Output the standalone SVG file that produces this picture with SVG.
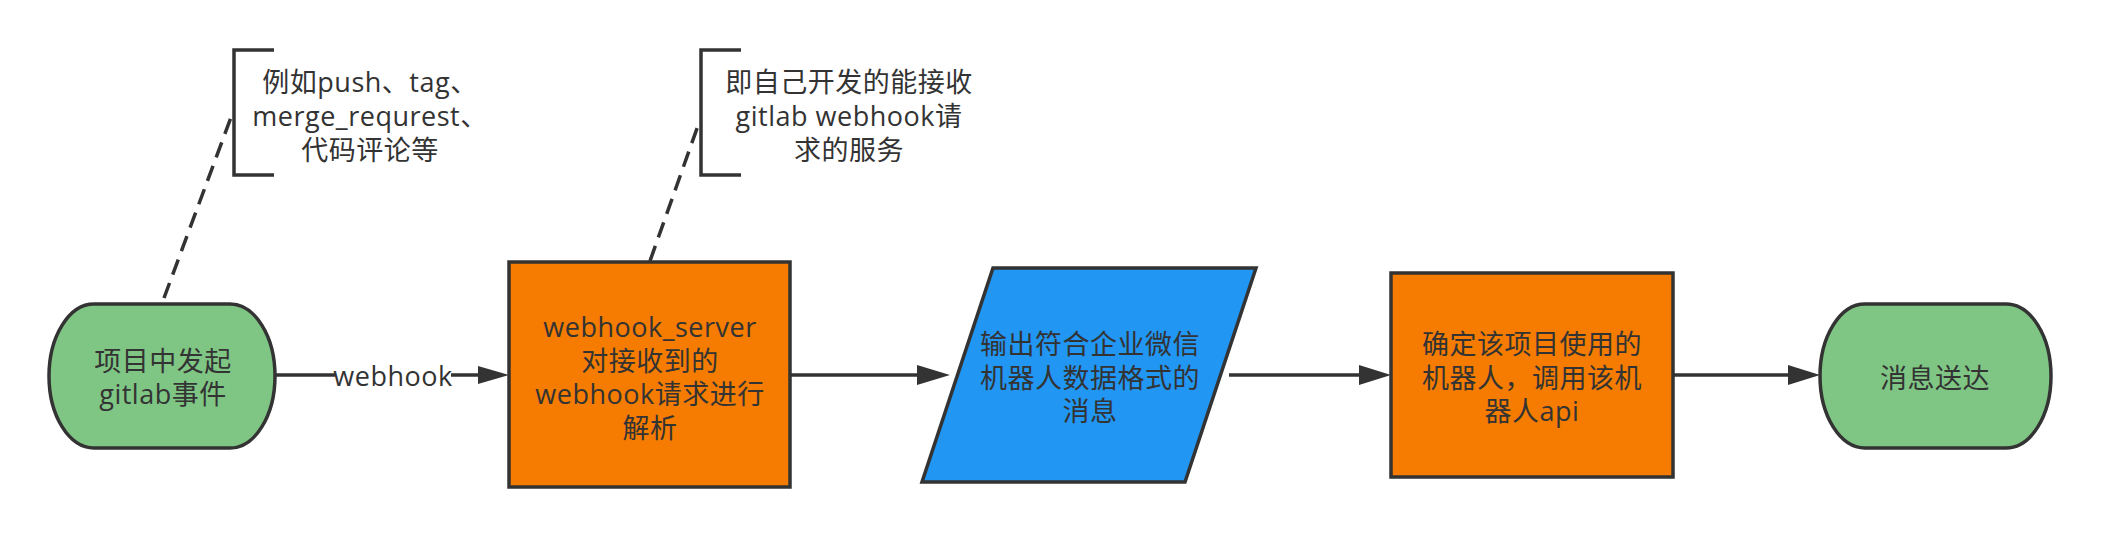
<svg xmlns="http://www.w3.org/2000/svg" width="2101" height="538" viewBox="0 0 2101 538">
<defs>
<style>
.t{font-family:"Open Sans","Noto Sans CJK SC",sans-serif;font-size:27px;letter-spacing:0.5px;fill:#333333;text-anchor:middle}
.node{stroke:#333333;stroke-width:3.5}
.green{fill:#7FC685}
.orange{fill:#F57C00}
.blue{fill:#2196F3}
.edge{fill:none;stroke:#333333;stroke-width:3.5}
.head{fill:#333333}
.dash{fill:none;stroke:#333333;stroke-width:3.5;stroke-dasharray:16,9}
.br{fill:none;stroke:#333333;stroke-width:3.5}
</style>
</defs>
<rect width="2101" height="538" fill="#ffffff"/>
<g id="connectors">
<path class="dash" d="M164,298 L233,112"/>
<path class="dash" d="M650,261 L700,120"/>
<path class="edge" d="M275,375 L480,375"/>
<polygon class="head" points="478,366 509,375 478,384"/>
<rect x="335" y="360" width="116" height="32" fill="#ffffff"/>
<text class="t" x="393" y="386">webhook</text>
<path class="edge" d="M790,375 L920,375"/>
<polygon class="head" points="917,365 950,375 917,385"/>
<path class="edge" d="M1229,375 L1360,375"/>
<polygon class="head" points="1359,365 1391,375 1359,385"/>
<path class="edge" d="M1673,375 L1790,375"/>
<polygon class="head" points="1788,365 1820,375 1788,385"/>
</g>
<g id="note1">
<path class="br" d="M274,50 L234,50 L234,175 L274,175"/>
<text class="t" x="370" y="92">例如push、tag、</text>
<text class="t" x="370" y="126">merge_requrest、</text>
<text class="t" x="370" y="160">代码评论等</text>
</g>
<g id="note2">
<path class="br" d="M741,50 L701,50 L701,175 L741,175"/>
<text class="t" x="849" y="92">即自己开发的能接收</text>
<text class="t" x="849" y="126">gitlab webhook请</text>
<text class="t" x="849" y="160">求的服务</text>
</g>
<g id="start">
<rect class="node green" x="49" y="304" width="226" height="144" rx="45" ry="72"/>
<text class="t" x="163" y="371">项目中发起</text>
<text class="t" x="163" y="404">gitlab事件</text>
</g>
<g id="server">
<rect class="node orange" x="509" y="262" width="281" height="225"/>
<text class="t" x="650" y="337">webhook_server</text>
<text class="t" x="650" y="371">对接收到的</text>
<text class="t" x="650" y="404">webhook请求进行</text>
<text class="t" x="650" y="438">解析</text>
</g>
<g id="output">
<polygon class="node blue" points="993,268 1256,268 1185,482 922,482"/>
<text class="t" x="1090" y="354">输出符合企业微信</text>
<text class="t" x="1090" y="388">机器人数据格式的</text>
<text class="t" x="1090" y="421">消息</text>
</g>
<g id="robot">
<rect class="node orange" x="1391" y="273" width="282" height="204"/>
<text class="t" x="1532" y="354">确定该项目使用的</text>
<text class="t" x="1532" y="388">机器人，调用该机</text>
<text class="t" x="1532" y="421">器人api</text>
</g>
<g id="end">
<rect class="node green" x="1820" y="304" width="231" height="144" rx="45" ry="72"/>
<text class="t" x="1935" y="388">消息送达</text>
</g>
</svg>
